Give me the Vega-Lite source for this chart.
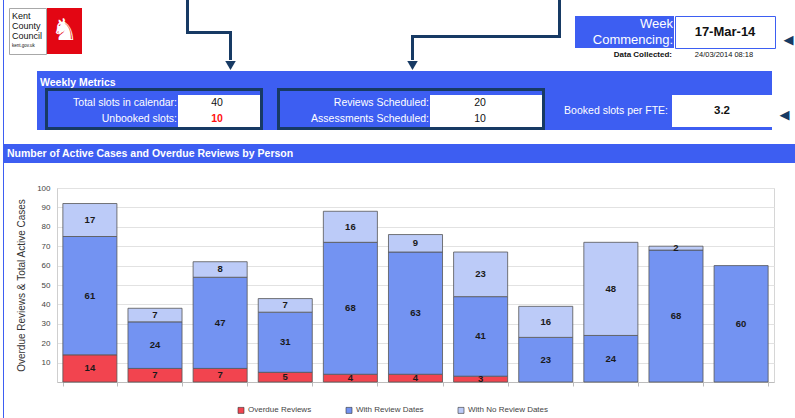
{
  "$schema": "https://vega.github.io/schema/vega-lite/v6.json",
  "background": "white",
  "padding": {"left": 3, "top": 0, "right": 0, "bottom": 0},
  "config": {
    "font": "Liberation Sans",
    "view": {"stroke": null},
    "concat": {"spacing": 0}
  },
  "datasets": {
    "bars": [
      {"person": "Person 1", "category": "Overdue Reviews", "k": 1, "value": 14},
      {"person": "Person 1", "category": "With Review Dates", "k": 2, "value": 61},
      {"person": "Person 1", "category": "With No Review Dates", "k": 3, "value": 17},
      {"person": "Person 2", "category": "Overdue Reviews", "k": 1, "value": 7},
      {"person": "Person 2", "category": "With Review Dates", "k": 2, "value": 24},
      {"person": "Person 2", "category": "With No Review Dates", "k": 3, "value": 7},
      {"person": "Person 3", "category": "Overdue Reviews", "k": 1, "value": 7},
      {"person": "Person 3", "category": "With Review Dates", "k": 2, "value": 47},
      {"person": "Person 3", "category": "With No Review Dates", "k": 3, "value": 8},
      {"person": "Person 4", "category": "Overdue Reviews", "k": 1, "value": 5},
      {"person": "Person 4", "category": "With Review Dates", "k": 2, "value": 31},
      {"person": "Person 4", "category": "With No Review Dates", "k": 3, "value": 7},
      {"person": "Person 5", "category": "Overdue Reviews", "k": 1, "value": 4},
      {"person": "Person 5", "category": "With Review Dates", "k": 2, "value": 68},
      {"person": "Person 5", "category": "With No Review Dates", "k": 3, "value": 16},
      {"person": "Person 6", "category": "Overdue Reviews", "k": 1, "value": 4},
      {"person": "Person 6", "category": "With Review Dates", "k": 2, "value": 63},
      {"person": "Person 6", "category": "With No Review Dates", "k": 3, "value": 9},
      {"person": "Person 7", "category": "Overdue Reviews", "k": 1, "value": 3},
      {"person": "Person 7", "category": "With Review Dates", "k": 2, "value": 41},
      {"person": "Person 7", "category": "With No Review Dates", "k": 3, "value": 23},
      {"person": "Person 8", "category": "Overdue Reviews", "k": 1, "value": 0},
      {"person": "Person 8", "category": "With Review Dates", "k": 2, "value": 23},
      {"person": "Person 8", "category": "With No Review Dates", "k": 3, "value": 16},
      {"person": "Person 9", "category": "Overdue Reviews", "k": 1, "value": 0},
      {"person": "Person 9", "category": "With Review Dates", "k": 2, "value": 24},
      {"person": "Person 9", "category": "With No Review Dates", "k": 3, "value": 48},
      {"person": "Person 10", "category": "Overdue Reviews", "k": 1, "value": 0},
      {"person": "Person 10", "category": "With Review Dates", "k": 2, "value": 68},
      {"person": "Person 10", "category": "With No Review Dates", "k": 3, "value": 2},
      {"person": "Person 11", "category": "Overdue Reviews", "k": 1, "value": 0},
      {"person": "Person 11", "category": "With Review Dates", "k": 2, "value": 60},
      {"person": "Person 11", "category": "With No Review Dates", "k": 3, "value": 0}
    ],
    "header": [
      {"panel": "slots", "line": 1, "label": "Total slots in calendar:", "value": "40"},
      {"panel": "slots", "line": 2, "label": "Unbooked slots:", "value": "10"},
      {"panel": "sched", "line": 1, "label": "Reviews Scheduled:", "value": "20"},
      {"panel": "sched", "line": 2, "label": "Assessments Scheduled:", "value": "10"},
      {"panel": "fte", "line": 1, "label": "Booked slots per FTE:", "value": "3.2"}
    ],
    "lines": [{"line": 1}, {"line": 2}]
  },
  "spacing": 0,
  "hconcat": [
    {"width": 1, "height": 418, "view": {"fill": "#3d5ef2", "stroke": null}, "data": {"values": []}, "mark": "text"},
    {
      "spacing": 0,
      "vconcat": [
        {
          "spacing": 0,
          "hconcat": [
            {
              "spacing": 0,
              "vconcat": [
                {"width": 1, "height": 7, "data": {"values": []}, "mark": "text"},
                {
                  "spacing": 0,
                  "hconcat": [
                    {"width": 4, "height": 1, "data": {"values": []}, "mark": "text"},
                    {
                      "width": 37, "height": 46,
                      "view": {"fill": "white", "stroke": "#a8a8a8"},
                      "data": {"values": [{"line": 1, "text": "Kent"}, {"line": 2, "text": "County"}, {"line": 3, "text": "Council"}, {"line": 4, "text": "kent.gov.uk"}]},
                      "mark": {"type": "text", "align": "left", "baseline": "middle", "dx": 3, "color": "#111"},
                      "encoding": {
                        "x": {"datum": 0, "type": "quantitative", "scale": {"domain": [0, 1]}, "axis": null},
                        "y": {"field": "line", "type": "ordinal", "axis": null, "scale": {"type": "point", "padding": 0.8}},
                        "text": {"field": "text"},
                        "size": {"condition": {"test": "datum.line === 4", "value": 4.5}, "value": 9}
                      }
                    },
                    {
                      "width": 35, "height": 46,
                      "view": {"fill": "#e30613", "stroke": null},
                      "data": {"values": [{}]},
                      "mark": {"type": "text", "color": "white", "fontSize": 30, "font": "DejaVu Sans", "baseline": "middle"},
                      "encoding": {"text": {"value": "♞"}}
                    }
                  ]
                }
              ]
            },
            {"width": 104, "height": 1, "data": {"values": []}, "mark": "text"},
            {"width": 3, "height": 34, "view": {"fill": "#173a64", "stroke": null}, "data": {"values": []}, "mark": "text"},
            {
              "spacing": 0,
              "vconcat": [
                {"width": 48, "height": 31, "data": {"values": []}, "mark": "text"},
                {
                  "spacing": 0,
                  "hconcat": [
                    {"width": 43, "height": 3, "view": {"fill": "#173a64", "stroke": null}, "data": {"values": []}, "mark": "text"},
                    {"width": 5, "height": 3, "data": {"values": []}, "mark": "text"}
                  ]
                },
                {
                  "spacing": 0,
                  "hconcat": [
                    {"width": 40, "height": 26, "data": {"values": []}, "mark": "text"},
                    {"width": 3, "height": 26, "view": {"fill": "#173a64", "stroke": null}, "data": {"values": []}, "mark": "text"},
                    {"width": 5, "height": 26, "data": {"values": []}, "mark": "text"}
                  ]
                },
                {
                  "spacing": 0,
                  "hconcat": [
                    {"width": 35, "height": 11, "data": {"values": []}, "mark": "text"},
                    {
                      "width": 13, "height": 11,
                      "data": {"values": [{}]},
                      "mark": {"type": "point", "shape": "triangle-down", "filled": true, "color": "#173a64", "size": 110, "opacity": 1}
                    }
                  ]
                }
              ]
            },
            {"width": 169, "height": 1, "data": {"values": []}, "mark": "text"},
            {
              "spacing": 0,
              "vconcat": [
                {"width": 152, "height": 35, "data": {"values": []}, "mark": "text"},
                {
                  "spacing": 0,
                  "hconcat": [
                    {"width": 5, "height": 3, "data": {"values": []}, "mark": "text"},
                    {"width": 147, "height": 3, "view": {"fill": "#173a64", "stroke": null}, "data": {"values": []}, "mark": "text"}
                  ]
                },
                {
                  "spacing": 0,
                  "hconcat": [
                    {"width": 5, "height": 22, "data": {"values": []}, "mark": "text"},
                    {"width": 3, "height": 22, "view": {"fill": "#173a64", "stroke": null}, "data": {"values": []}, "mark": "text"},
                    {"width": 144, "height": 22, "data": {"values": []}, "mark": "text"}
                  ]
                },
                {
                  "spacing": 0,
                  "hconcat": [
                    {
                      "width": 13, "height": 11,
                      "data": {"values": [{}]},
                      "mark": {"type": "point", "shape": "triangle-down", "filled": true, "color": "#173a64", "size": 110, "opacity": 1}
                    },
                    {"width": 139, "height": 11, "data": {"values": []}, "mark": "text"}
                  ]
                }
              ]
            },
            {"width": 3, "height": 38, "view": {"fill": "#173a64", "stroke": null}, "data": {"values": []}, "mark": "text"},
            {"width": 14, "height": 1, "data": {"values": []}, "mark": "text"},
            {
              "spacing": 0,
              "vconcat": [
                {"width": 1, "height": 15, "data": {"values": []}, "mark": "text"},
                {
                  "spacing": 0,
                  "hconcat": [
                    {
                      "width": 99, "height": 32,
                      "view": {"fill": "#3d5ef2", "stroke": null},
                      "data": {"values": [{"line": 1, "text": "Week"}, {"line": 2, "text": "Commencing:"}]},
                      "mark": {"type": "text", "align": "right", "baseline": "middle", "dx": -1, "color": "white", "fontSize": 13},
                      "encoding": {
                        "x": {"datum": 1, "type": "quantitative", "scale": {"domain": [0, 1]}, "axis": null},
                        "y": {"field": "line", "type": "ordinal", "axis": null, "scale": {"type": "point", "padding": 0.5}},
                        "text": {"field": "text"}
                      }
                    },
                    {
                      "width": 100, "height": 32,
                      "view": {"fill": "white", "stroke": "#3d5ef2"},
                      "data": {"values": [{"text": "17-Mar-14"}]},
                      "mark": {"type": "text", "baseline": "middle", "fontSize": 13, "fontWeight": "bold", "color": "#111"},
                      "encoding": {"text": {"field": "text"}}
                    }
                  ]
                },
                {
                  "spacing": 0,
                  "hconcat": [
                    {
                      "width": 99, "height": 12,
                      "data": {"values": [{"text": "Data Collected:"}]},
                      "mark": {"type": "text", "align": "right", "baseline": "middle", "dx": -2, "fontSize": 8, "fontWeight": "bold", "color": "#111"},
                      "encoding": {
                        "x": {"datum": 1, "type": "quantitative", "scale": {"domain": [0, 1]}, "axis": null},
                        "text": {"field": "text"}
                      }
                    },
                    {
                      "width": 100, "height": 12,
                      "data": {"values": [{"text": "24/03/2014 08:18"}]},
                      "mark": {"type": "text", "baseline": "middle", "fontSize": 7.5, "color": "#111"},
                      "encoding": {"text": {"field": "text"}}
                    }
                  ]
                }
              ]
            },
            {
              "spacing": 0,
              "vconcat": [
                {"width": 1, "height": 15, "data": {"values": []}, "mark": "text"},
                {
                  "width": 23, "height": 32,
                  "data": {"values": [{}]},
                  "mark": {"type": "text", "baseline": "middle", "fontSize": 13, "font": "DejaVu Sans", "color": "#173a64", "dx": 1, "dy": 9},
                  "encoding": {"text": {"value": "◀"}}
                }
              ]
            }
          ]
        },
        {
          "spacing": 0,
          "hconcat": [
            {"width": 33, "height": 1, "data": {"values": []}, "mark": "text"},
            {
              "spacing": 0,
              "vconcat": [
                {
                  "width": 735, "height": 17,
                  "view": {"fill": "#3d5ef2", "stroke": null},
                  "data": {"values": [{"text": "Weekly Metrics"}]},
                  "mark": {"type": "text", "align": "left", "baseline": "middle", "dx": 3, "dy": 3, "color": "white", "fontSize": 10.5, "fontWeight": "bold"},
                  "encoding": {
                    "x": {"datum": 0, "type": "quantitative", "scale": {"domain": [0, 1]}, "axis": null},
                    "text": {"field": "text"}
                  }
                },
                {
                  "spacing": 0,
                  "hconcat": [
                    {"width": 8, "height": 42, "view": {"fill": "#3d5ef2", "stroke": null}, "data": {"values": []}, "mark": "text"},
                    {"width": 3, "height": 42, "view": {"fill": "#173a64", "stroke": null}, "data": {"values": []}, "mark": "text"},
                    {
                      "spacing": 0,
                      "vconcat": [
                        {"width": 130, "height": 3, "view": {"fill": "#173a64", "stroke": null}, "data": {"values": []}, "mark": "text"},
                        {
                          "width": 130, "height": 36,
                          "view": {"fill": "#3d5ef2", "stroke": null},
                          "data": {"name": "header"},
                          "transform": [{"filter": "datum.panel === 'slots'"}],
                          "mark": {"type": "text", "align": "right", "baseline": "middle", "dx": -1, "color": "white", "fontSize": 10.5},
                          "encoding": {
                            "x": {"datum": 1, "type": "quantitative", "scale": {"domain": [0, 1]}, "axis": null},
                            "y": {"field": "line", "type": "ordinal", "axis": null, "scale": {"type": "band", "domain": [1, 2], "paddingInner": 0, "paddingOuter": 0.125, "align": 1}},
                            "text": {"field": "label"}
                          }
                        },
                        {"width": 130, "height": 3, "view": {"fill": "#173a64", "stroke": null}, "data": {"values": []}, "mark": "text"}
                      ]
                    },
                    {
                      "spacing": 0,
                      "vconcat": [
                        {"width": 82, "height": 3, "view": {"fill": "#173a64", "stroke": null}, "data": {"values": []}, "mark": "text"},
                        {
                          "width": 82, "height": 36,
                          "view": {"fill": "#3d5ef2", "stroke": null},
                          "data": {"name": "header"},
                          "layer": [
                            {
                              "data": {"name": "lines"},
                              "mark": {"type": "rect", "color": "white"},
                              "encoding": {"y": {"field": "line", "type": "ordinal", "axis": null, "scale": {"type": "band", "domain": [1, 2], "paddingInner": 0, "paddingOuter": 0.125, "align": 1}}}
                            },
                            {
                              "transform": [{"filter": "datum.panel === 'slots' && datum.line === 1"}],
                              "mark": {"type": "text", "baseline": "middle", "fontSize": 10.5, "color": "#111", "dx": -2},
                              "encoding": {
                                "y": {"field": "line", "type": "ordinal", "axis": null, "scale": {"type": "band", "domain": [1, 2], "paddingInner": 0, "paddingOuter": 0.125, "align": 1}},
                                "text": {"field": "value"}
                              }
                            },
                            {
                              "transform": [{"filter": "datum.panel === 'slots' && datum.line === 2"}],
                              "mark": {"type": "text", "baseline": "middle", "fontSize": 10.5, "fontWeight": "bold", "color": "#ff1010", "dx": -2},
                              "encoding": {
                                "y": {"field": "line", "type": "ordinal", "axis": null, "scale": {"type": "band", "domain": [1, 2], "paddingInner": 0, "paddingOuter": 0.125, "align": 1}},
                                "text": {"field": "value"}
                              }
                            }
                          ]
                        },
                        {"width": 82, "height": 3, "view": {"fill": "#173a64", "stroke": null}, "data": {"values": []}, "mark": "text"}
                      ]
                    },
                    {"width": 3, "height": 42, "view": {"fill": "#173a64", "stroke": null}, "data": {"values": []}, "mark": "text"},
                    {"width": 14, "height": 42, "view": {"fill": "#3d5ef2", "stroke": null}, "data": {"values": []}, "mark": "text"},
                    {"width": 3, "height": 42, "view": {"fill": "#173a64", "stroke": null}, "data": {"values": []}, "mark": "text"},
                    {
                      "spacing": 0,
                      "vconcat": [
                        {"width": 150, "height": 3, "view": {"fill": "#173a64", "stroke": null}, "data": {"values": []}, "mark": "text"},
                        {
                          "width": 150, "height": 36,
                          "view": {"fill": "#3d5ef2", "stroke": null},
                          "data": {"name": "header"},
                          "transform": [{"filter": "datum.panel === 'sched'"}],
                          "mark": {"type": "text", "align": "right", "baseline": "middle", "dx": -1, "color": "white", "fontSize": 10.5},
                          "encoding": {
                            "x": {"datum": 1, "type": "quantitative", "scale": {"domain": [0, 1]}, "axis": null},
                            "y": {"field": "line", "type": "ordinal", "axis": null, "scale": {"type": "band", "domain": [1, 2], "paddingInner": 0, "paddingOuter": 0.125, "align": 1}},
                            "text": {"field": "label"}
                          }
                        },
                        {"width": 150, "height": 3, "view": {"fill": "#173a64", "stroke": null}, "data": {"values": []}, "mark": "text"}
                      ]
                    },
                    {
                      "spacing": 0,
                      "vconcat": [
                        {"width": 112, "height": 3, "view": {"fill": "#173a64", "stroke": null}, "data": {"values": []}, "mark": "text"},
                        {
                          "width": 112, "height": 36,
                          "view": {"fill": "#3d5ef2", "stroke": null},
                          "data": {"name": "header"},
                          "layer": [
                            {
                              "data": {"name": "lines"},
                              "mark": {"type": "rect", "color": "white"},
                              "encoding": {"y": {"field": "line", "type": "ordinal", "axis": null, "scale": {"type": "band", "domain": [1, 2], "paddingInner": 0, "paddingOuter": 0.125, "align": 1}}}
                            },
                            {
                              "transform": [{"filter": "datum.panel === 'sched'"}],
                              "mark": {"type": "text", "baseline": "middle", "fontSize": 10.5, "color": "#111", "dx": -6},
                              "encoding": {
                                "y": {"field": "line", "type": "ordinal", "axis": null, "scale": {"type": "band", "domain": [1, 2], "paddingInner": 0, "paddingOuter": 0.125, "align": 1}},
                                "text": {"field": "value"}
                              }
                            }
                          ]
                        },
                        {"width": 112, "height": 3, "view": {"fill": "#173a64", "stroke": null}, "data": {"values": []}, "mark": "text"}
                      ]
                    },
                    {"width": 3, "height": 42, "view": {"fill": "#173a64", "stroke": null}, "data": {"values": []}, "mark": "text"},
                    {
                      "width": 127, "height": 42,
                      "view": {"fill": "#3d5ef2", "stroke": null},
                      "data": {"name": "header"},
                      "transform": [{"filter": "datum.panel === 'fte'"}],
                      "mark": {"type": "text", "align": "right", "baseline": "middle", "dx": -4, "dy": 2, "color": "white", "fontSize": 10.5},
                      "encoding": {
                        "x": {"datum": 1, "type": "quantitative", "scale": {"domain": [0, 1]}, "axis": null},
                        "text": {"field": "label"}
                      }
                    },
                    {
                      "width": 100, "height": 42,
                      "view": {"fill": "#3d5ef2", "stroke": null},
                      "data": {"name": "header"},
                      "layer": [
                        {
                          "data": {"name": "lines"},
                          "mark": {"type": "rect", "color": "white"},
                          "encoding": {"y": {"field": "line", "type": "ordinal", "axis": null, "scale": {"type": "band", "domain": [1, 2], "paddingInner": 0, "paddingOuter": 0.3125, "align": 0.7}}}
                        },
                        {
                          "transform": [{"filter": "datum.panel === 'fte'"}],
                          "mark": {"type": "text", "baseline": "middle", "fontSize": 11.5, "fontWeight": "bold", "color": "#111", "dy": 2},
                          "encoding": {"text": {"field": "value"}}
                        }
                      ]
                    },
                    {
                      "width": 23, "height": 42,
                      "data": {"values": [{}]},
                      "mark": {"type": "text", "baseline": "middle", "fontSize": 13, "font": "DejaVu Sans", "color": "#173a64", "dx": 1, "dy": 6},
                      "encoding": {"text": {"value": "◀"}}
                    }
                  ]
                }
              ]
            }
          ]
        },
        {"width": 1, "height": 14, "data": {"values": []}, "mark": "text"},
        {
          "width": 791, "height": 19,
          "view": {"fill": "#3d5ef2", "stroke": null},
          "data": {"values": [{"text": "Number of Active Cases and Overdue Reviews by Person"}]},
          "mark": {"type": "text", "align": "left", "baseline": "middle", "dx": 3, "color": "white", "fontSize": 10.5, "fontWeight": "bold"},
          "encoding": {
            "x": {"datum": 0, "type": "quantitative", "scale": {"domain": [0, 1]}, "axis": null},
            "text": {"field": "text"}
          }
        },
        {"width": 1, "height": 20, "data": {"values": []}, "mark": "text"},
        {
          "spacing": 0,
          "hconcat": [
            {"width": 12, "height": 1, "data": {"values": []}, "mark": "text"},
            {
              "width": 717, "height": 194,
              "view": {"stroke": "#d6d6d6"},
              "data": {"name": "bars"},
              "transform": [{"filter": "datum.value > 0"}],
              "encoding": {
                "x": {
                  "field": "person", "type": "nominal", "sort": null,
                  "scale": {"paddingInner": 0.17, "paddingOuter": 0.09},
                  "axis": {"title": null, "labels": false, "ticks": true, "tickBand": "extent", "tickSize": 4, "tickColor": "#bdbdbd", "domainColor": "#bdbdbd"}
                }
              },
              "layer": [
                {
                  "mark": {"type": "bar", "stroke": "#555555", "strokeWidth": 0.8},
                  "encoding": {
                    "y": {
                      "field": "value", "type": "quantitative", "stack": "zero",
                      "scale": {"domain": [0, 100]},
                      "axis": {
                        "values": [10, 20, 30, 40, 50, 60, 70, 80, 90, 100],
                        "labelOverlap": false,
                        "title": "Overdue Reviews & Total Active Cases",
                        "titleFontSize": 10, "titleFontWeight": "normal", "titleColor": "#333333", "titlePadding": 10,
                        "labelFontSize": 8, "labelColor": "#444444", "labelPadding": 7,
                        "ticks": false, "domainColor": "#cfcfcf", "gridColor": "#e2e2e2", "gridWidth": 1.2
                      }
                    },
                    "color": {
                      "field": "category", "type": "nominal",
                      "scale": {"domain": ["Overdue Reviews", "With Review Dates", "With No Review Dates"], "range": ["#f2444f", "#7393f2", "#bccbf8"]},
                      "legend": {"title": null, "orient": "none", "legendX": 234, "legendY": 406, "direction": "horizontal", "symbolType": "square", "symbolSize": 36, "symbolStrokeColor": "#333333", "symbolStrokeWidth": 0.6, "labelFontSize": 8, "labelColor": "#444444", "columnPadding": 32, "labelOffset": 3}
                    },
                    "order": {"field": "k"}
                  }
                },
                {
                  "mark": {"type": "text", "fontSize": 9.5, "fontWeight": "bold", "color": "#1a1a1a", "baseline": "middle"},
                  "encoding": {
                    "y": {
                      "field": "value", "type": "quantitative", "stack": "zero", "bandPosition": 0.5,
                      "axis": {
                        "values": [10, 20, 30, 40, 50, 60, 70, 80, 90, 100],
                        "labelOverlap": false,
                        "title": "Overdue Reviews & Total Active Cases",
                        "titleFontSize": 10, "titleFontWeight": "normal", "titleColor": "#333333", "titlePadding": 10,
                        "labelFontSize": 8, "labelColor": "#444444", "labelPadding": 7,
                        "ticks": false, "domainColor": "#cfcfcf", "gridColor": "#e2e2e2", "gridWidth": 1.2
                      }
                    },
                    "detail": {"field": "category"},
                    "order": {"field": "k"},
                    "text": {"field": "value"}
                  }
                }
              ]
            }
          ]
        }
      ]
    }
  ]
}
